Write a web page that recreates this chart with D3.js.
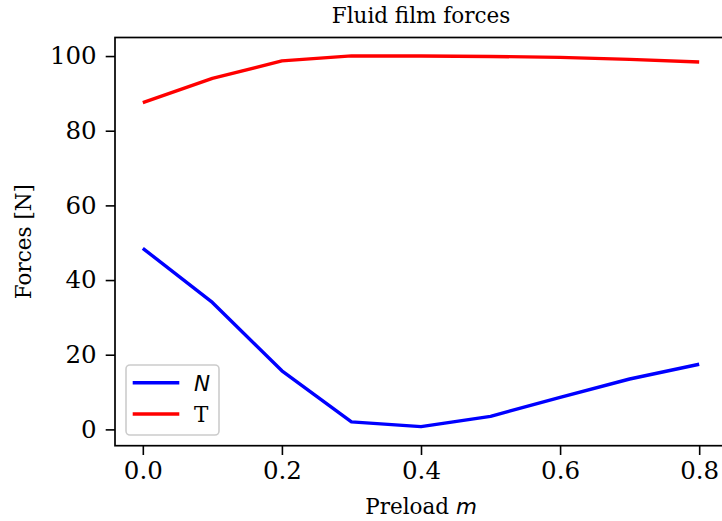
<!DOCTYPE html>
<html><head><meta charset="utf-8">
<script src="https://cdn.jsdelivr.net/npm/d3@7"></script>
<style>
body{margin:0;background:#fff;}
svg{display:block;}
text{font-family:"DejaVu Serif",serif;fill:#000;}
</style></head>
<body><svg id="c" width="722" height="521"></svg>
<script>
const preload = [0.0, 0.1, 0.2, 0.3, 0.4, 0.5, 0.6, 0.7, 0.8];
const forceN = [48.5, 34.0, 15.7, 2.0, 0.75, 3.5, 8.6, 13.5, 17.45];
const forceT = [87.5, 94.0, 98.7, 100.05, 100.0, 99.9, 99.65, 99.1, 98.4];
const xTicks = [0.0, 0.2, 0.4, 0.6, 0.8];
const yTicks = [0, 20, 40, 60, 80, 100];
const seriesNames = ["N", "T"];

const svg = d3.select("#c");
const L = 115, R = 727, T = 37.5, B = 445.7;
const x = d3.scaleLinear().domain([-0.04, 0.84]).range([L, R]);
const y = d3.scaleLinear().domain([-4.37, 104.97]).range([B, T]);

// x axis
const gx = svg.append("g").attr("transform", `translate(0,${B})`)
  .call(d3.axisBottom(x).tickValues(xTicks).tickFormat(d3.format(".1f")).tickSizeOuter(0).tickSize(9.3).tickPadding(7));
gx.select(".domain").remove();
gx.selectAll(".tick line").attr("stroke", "#000").attr("stroke-width", 1.6);
gx.selectAll(".tick text").style("font-size", "24.5px").style("font-family", "DejaVu Serif");

// y axis
const gy = svg.append("g").attr("transform", `translate(${L},0)`)
  .call(d3.axisLeft(y).tickValues(yTicks).tickFormat(d3.format("d")).tickSizeOuter(0).tickSize(9.3).tickPadding(9));
gy.select(".domain").remove();
gy.selectAll(".tick line").attr("stroke", "#000").attr("stroke-width", 1.6);
gy.selectAll(".tick text").style("font-size", "24.5px").style("font-family", "DejaVu Serif");

// lines
const line = d3.line().x((d, i) => x(preload[i])).y(d => y(d));
svg.append("path").datum(forceN).attr("d", line).attr("fill", "none")
  .attr("stroke", "#0000ff").attr("stroke-width", 3.4).attr("stroke-linejoin", "round");
svg.append("path").datum(forceT).attr("d", line).attr("fill", "none")
  .attr("stroke", "#ff0000").attr("stroke-width", 3.4).attr("stroke-linejoin", "round");

// spines
svg.append("rect").attr("x", L).attr("y", T).attr("width", R - L).attr("height", B - T)
  .attr("fill", "none").attr("stroke", "#000").attr("stroke-width", 1.7);

// title and labels
svg.append("text").attr("x", (L + R) / 2).attr("y", 23).attr("text-anchor", "middle")
  .style("font-size", "21.5px").text("Fluid film forces");
const xl = svg.append("text").attr("x", (L + R) / 2).attr("y", 514).attr("text-anchor", "middle")
  .style("font-size", "21.5px");
xl.append("tspan").text("Preload ");
xl.append("tspan").style("font-family", "DejaVu Sans").style("font-style", "italic").text("m");
svg.append("text").attr("transform", `translate(31,${(T + B) / 2}) rotate(-90)`)
  .attr("text-anchor", "middle").style("font-size", "21.5px").text("Forces [N]");

// legend
const lg = svg.append("g");
lg.append("rect").attr("x", 126).attr("y", 365).attr("width", 93).attr("height", 70)
  .attr("rx", 4).attr("fill", "#fff").attr("fill-opacity", 0.8)
  .attr("stroke", "#cccccc").attr("stroke-width", 1.6);
const colors = ["#0000ff", "#ff0000"];
seriesNames.forEach((nm, i) => {
  const yy = 382.7 + i * 31.3;
  lg.append("line").attr("x1", 132.7).attr("x2", 179.3).attr("y1", yy).attr("y2", yy)
    .attr("stroke", colors[i]).attr("stroke-width", 3.4);
  const t = lg.append("text").attr("x", 194).attr("y", yy + 7.8).style("font-size", "21.5px").text(nm);
  if (i === 0) t.style("font-family", "DejaVu Sans").style("font-style", "italic");
  else t.style("font-family", "DejaVu Serif").style("font-style", "normal");
});
</script></body></html>
